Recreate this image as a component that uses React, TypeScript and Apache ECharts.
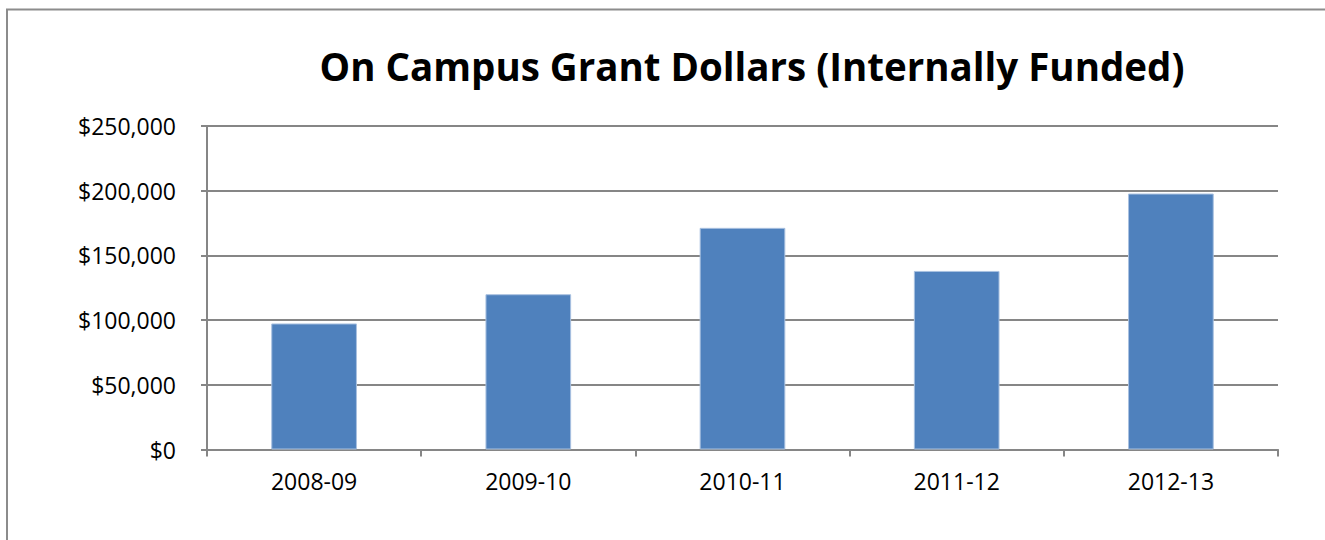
import React, { useEffect, useRef } from "react";
import * as echarts from "echarts";

const TITLE = "On Campus Grant Dollars (Internally Funded)";
const categories = ["2008-09", "2009-10", "2010-11", "2011-12", "2012-13"];
const grantDollars = [97400, 120000, 171300, 138000, 197800];
const yTicks = [0, 50000, 100000, 150000, 200000, 250000];

const fmt = (v: number) => "$" + v.toLocaleString("en-US");

export default function App() {
  const ref = useRef<HTMLDivElement>(null);
  useEffect(() => {
    if (!ref.current) return;
    const chart = echarts.init(ref.current, null, { renderer: "svg" });
    const font = "'Open Sans', 'Noto Sans', sans-serif";
    chart.setOption({
      animation: false,
      backgroundColor: "#ffffff",
      textStyle: { fontFamily: font },
      grid: { left: 207, right: 47, top: 126, bottom: 90.5 },
      graphic: [
        {
          type: "polyline",
          shape: { points: [[7, 560], [7, 9.5], [1340, 9.5]] },
          style: { fill: "none", stroke: "#8c8c8c", lineWidth: 2 },
          silent: true,
        },
        {
          type: "text",
          x: 752,
          y: 66,
          style: {
            text: TITLE,
            fontFamily: font,
            fontWeight: "bold",
            fontSize: 38.5,
            fill: "#000000",
            textAlign: "center",
            textVerticalAlign: "middle",
          },
        },
      ],
      xAxis: {
        type: "category",
        data: categories,
        boundaryGap: true,
        axisLine: { show: true, lineStyle: { color: "#868686", width: 2 } },
        axisTick: { show: true, length: 7, inside: false, alignWithLabel: false, lineStyle: { color: "#868686", width: 2 } },
        axisLabel: { color: "#000000", fontSize: 23, margin: 20, fontFamily: font },
        splitLine: { show: false },
      },
      yAxis: {
        type: "value",
        min: yTicks[0],
        max: yTicks[yTicks.length - 1],
        interval: yTicks[1] - yTicks[0],
        axisLine: { show: true, lineStyle: { color: "#868686", width: 2 } },
        axisTick: { show: true, length: 6, inside: false, lineStyle: { color: "#868686", width: 2 } },
        axisLabel: { color: "#000000", fontSize: 23, margin: 31, fontFamily: font, formatter: (v: number) => fmt(v) },
        splitLine: { show: true, lineStyle: { color: "#868686", width: 2 } },
      },
      series: [
        {
          type: "bar",
          data: grantDollars,
          barWidth: "40%",
          itemStyle: { color: "#4F81BD", borderColor: "#a9c1e0", borderWidth: 1 },
        },
      ],
    });
    return () => chart.dispose();
  }, []);
  return (
    <div
      ref={ref}
      style={{ position: "absolute", left: 0, top: 0, width: 1325, height: 540 }}
    />
  );
}
